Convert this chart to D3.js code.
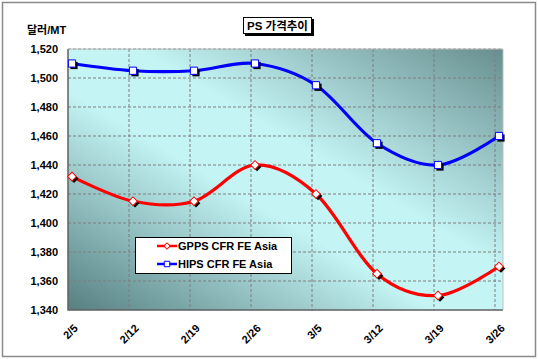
<!DOCTYPE html>
<html><head><meta charset="utf-8">
<script src="https://cdn.jsdelivr.net/npm/d3@7"></script>
<style>
html,body{margin:0;padding:0;background:#fff;}
text{font-family:"Liberation Sans",Arial,"Noto Sans CJK KR",sans-serif;font-weight:bold;}
</style></head><body>
<svg id="c" width="538" height="359"></svg>
<script>
const categories = ["2/5","2/12","2/19","2/26","3/5","3/12","3/19","3/26"];
const gpps = [1432,1415,1415,1440,1420,1365,1350,1370];
const hips = [1510,1505,1505,1510,1495,1455,1440,1460];
const yTicks = [1340,1360,1380,1400,1420,1440,1460,1480,1500,1520];
const seriesNames = ["GPPS CFR FE Asia","HIPS CFR FE Asia"];
const title = "PS 가격추이";
const yLabel = "달러/MT";

const svg = d3.select("#c");
const L=68,T=49,R=503,B=310;
const x = d3.scalePoint().domain(categories).range([L,495]);
const y = d3.scaleLinear().domain([1340,1520]).range([B,T]);
const off = 4;

svg.append("rect").attr("x",2.5).attr("y",2.5).attr("width",533).attr("height",354)
  .attr("fill","#fff").attr("stroke","#8a8a8a").attr("stroke-width",1.5);

const defs = svg.append("defs");
const g = defs.append("linearGradient").attr("id","bg")
  .attr("x1",0).attr("y1",1).attr("x2",1).attr("y2",0);
g.append("stop").attr("offset",0).attr("stop-color","#567f80");
g.append("stop").attr("offset",0.42).attr("stop-color","#c4f4f4");
g.append("stop").attr("offset",0.58).attr("stop-color","#c4f4f4");
g.append("stop").attr("offset",1).attr("stop-color","#678e8f");

svg.append("rect").attr("x",L).attr("y",T).attr("width",R-L).attr("height",B-T)
  .attr("fill","url(#bg)");

svg.append("g").selectAll("line").data(yTicks.slice(1)).join("line")
  .attr("x1",L).attr("x2",R).attr("y1",d=>y(d)).attr("y2",d=>y(d))
  .attr("stroke","#7f7f7f").attr("stroke-dasharray","3,2").attr("stroke-width",1);
svg.append("g").selectAll("line").data(categories.slice(1)).join("line")
  .attr("x1",d=>x(d)).attr("x2",d=>x(d)).attr("y1",T).attr("y2",B)
  .attr("stroke","#7f7f7f").attr("stroke-dasharray","3,2").attr("stroke-width",1);

svg.append("path").attr("d",`M${L},${T}V${B}H${R}`).attr("fill","none")
  .attr("stroke","#606060").attr("stroke-width",1.5);
svg.append("path").attr("d",`M${L},${T}H${R}V${B}`).attr("fill","none")
  .attr("stroke","#c0c0c0").attr("stroke-width",1);

const yAxis = d3.axisLeft(y).tickValues(yTicks).tickFormat(d3.format(",")).tickSize(0).tickPadding(10);
const ya = svg.append("g").attr("transform",`translate(${L},0)`).call(yAxis);
ya.select(".domain").remove();
ya.selectAll("text").attr("font-size","11px").attr("fill","#000")
  .style("font-family","'Liberation Sans',Arial,sans-serif").style("font-weight","bold");

const xAxis = d3.axisBottom(x).tickSize(0).tickPadding(0);
const xa = svg.append("g").attr("transform",`translate(0,${B})`).call(xAxis);
xa.select(".domain").remove();
xa.selectAll("text").attr("font-size","11px").attr("fill","#000")
  .attr("text-anchor","end").attr("dy",null).attr("y",0).attr("x",0)
  .attr("transform","translate(10,19) rotate(-45)")
  .style("font-family","'Liberation Sans',Arial,sans-serif").style("font-weight","bold");

const line = d3.line().x((d,i)=>x(categories[i])+off).y(d=>y(d)).curve(d3.curveCardinal.tension(0));
function drawSeries(data,color,shape){
  svg.append("path").datum(data).attr("d",line).attr("fill","none")
    .attr("stroke",color).attr("stroke-width",3.2);
  const sym = d3.symbol().type(d3.symbolSquare).size(shape==="square"?52:38);
  const rot = shape==="square"?0:45;
  const gg = svg.append("g");
  gg.selectAll("path.sh").data(data).join("path").attr("class","sh")
    .attr("d",sym).attr("fill","#000")
    .attr("transform",(d,i)=>`translate(${x(categories[i])+off+2},${y(d)+2}) rotate(${rot})`);
  gg.selectAll("path.mk").data(data).join("path").attr("class","mk")
    .attr("d",sym).attr("fill","#fff").attr("stroke",color).attr("stroke-width",1)
    .attr("transform",(d,i)=>`translate(${x(categories[i])+off},${y(d)}) rotate(${rot})`);
}
drawSeries(gpps,"#ff0000","diamond");
drawSeries(hips,"#0000ff","square");

const lg = svg.append("g");
lg.append("rect").attr("x",135.5).attr("y",237.5).attr("width",156).attr("height",36)
  .attr("fill","#fff").attr("stroke","#000").attr("stroke-width",1);
const legItems = [{n:seriesNames[0],c:"#ff0000",s:"diamond"},{n:seriesNames[1],c:"#0000ff",s:"square"}];
legItems.forEach((it,i)=>{
  const cy = 246 + i*18;
  lg.append("line").attr("x1",157).attr("x2",177).attr("y1",cy).attr("y2",cy)
    .attr("stroke",it.c).attr("stroke-width",2.5);
  lg.append("path").attr("d",d3.symbol().type(d3.symbolSquare).size(it.s==="square"?30:20))
    .attr("transform",`translate(167,${cy}) rotate(${it.s==="square"?0:45})`).attr("fill","#fff").attr("stroke",it.c).attr("stroke-width",1);
  lg.append("text").attr("x",178).attr("y",cy+4).attr("font-size","11px").attr("fill","#000").text(it.n);
});

svg.append("rect").attr("x",245).attr("y",19).attr("width",69).attr("height",17).attr("fill","#000");
svg.append("rect").attr("x",243.5).attr("y",17.5).attr("width",68).attr("height",16)
  .attr("fill","#fff").attr("stroke","#000").attr("stroke-width",1);
svg.append("text").attr("x",277.5).attr("y",30).attr("text-anchor","middle").attr("font-size","11.5px")
  .attr("fill","#000").style("font-family","'Liberation Sans','Noto Sans CJK KR',sans-serif").text(title);

svg.append("text").attr("x",27).attr("y",34).attr("font-size","11px").attr("fill","#000")
  .style("font-family","'Liberation Sans','Noto Sans CJK KR',sans-serif").text(yLabel);
</script></body></html>
